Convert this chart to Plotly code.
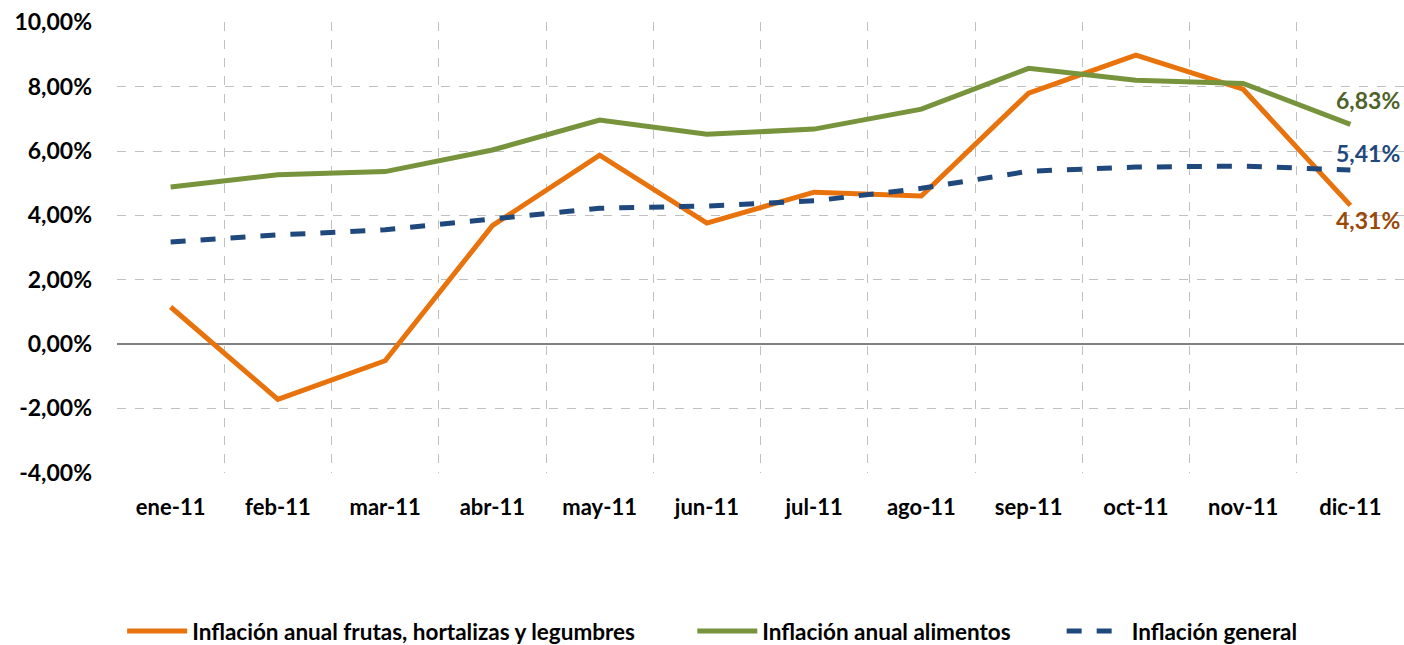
import plotly.graph_objects as go

months = ['ene-11', 'feb-11', 'mar-11', 'abr-11', 'may-11', 'jun-11',
          'jul-11', 'ago-11', 'sep-11', 'oct-11', 'nov-11', 'dic-11']

frutas = [1.15, -1.72, -0.52, 3.68, 5.87, 3.76, 4.72, 4.60, 7.80, 8.98, 7.92, 4.31]
alimentos = [4.88, 5.26, 5.36, 6.03, 6.96, 6.52, 6.68, 7.30, 8.57, 8.20, 8.10, 6.83]
general = [3.17, 3.39, 3.55, 3.88, 4.22, 4.29, 4.45, 4.84, 5.37, 5.50, 5.53, 5.41]

y_ticks = [-4, -2, 0, 2, 4, 6, 8, 10]

FONT = 'Lato, Roboto, Noto Sans, sans-serif'
ORANGE = '#E8720C'
GREEN = '#77933C'
BLUE = '#1F497D'
GRID = '#C0C0C0'


def pct(v):
    return ('%.2f%%' % v).replace('.', ',')


x = list(range(len(months)))

fig = go.Figure()
fig.add_trace(go.Scatter(x=x, y=[v / 100 for v in frutas], mode='lines',
                         name='<b>Inflación anual frutas, hortalizas y legumbres</b>',
                         line=dict(color=ORANGE, width=5), legend='legend'))
fig.add_trace(go.Scatter(x=x, y=[v / 100 for v in alimentos], mode='lines',
                         name='<b>Inflación anual alimentos</b>',
                         line=dict(color=GREEN, width=5), legend='legend2'))
fig.add_trace(go.Scatter(x=x, y=[v / 100 for v in general], mode='lines',
                         name='<b>Inflación general</b>',
                         line=dict(color=BLUE, width=5, dash='dash'), legend='legend3'))
# invisible trace to draw the category boundary grid
fig.add_trace(go.Scatter(x=[0], y=[0], xaxis='x2', mode='markers', marker=dict(opacity=0),
                         showlegend=False, hoverinfo='skip'))

# end-of-line labels
last = len(months) - 1
labels = [
    (alimentos[last], '#4F6228', 24),
    (general[last], BLUE, 17),
    (frutas[last], '#984807', -15),
]
for val, col, dy in labels:
    fig.add_annotation(x=last, y=val / 100, xref='x', yref='y',
                       text='<b>%s</b>' % pct(val), showarrow=False,
                       xshift=18, yshift=dy, xanchor='center',
                       font=dict(family=FONT, size=23, color=col))

leg = dict(orientation='h', yref='container', yanchor='middle', y=0.021, xanchor='left',
           font=dict(family=FONT, size=22.5, color='black'),
           bgcolor='rgba(0,0,0,0)', itemwidth=60)

fig.update_layout(
    width=1404, height=645,
    margin=dict(l=117, r=0, t=22, b=172),
    paper_bgcolor='white', plot_bgcolor='white',
    separators=',.',
    font=dict(family=FONT, size=22, color='black'),
    showlegend=True,
    legend=dict(leg, x=0.004),
    legend2=dict(leg, x=0.447),
    legend3=dict(leg, x=0.734),
    xaxis=dict(range=[-0.5, 11.5], tickvals=x, ticktext=['<b>%s</b>' % m for m in months],
               showgrid=False, zeroline=False, showline=False, ticks='',
               ticklabelstandoff=19, tickfont=dict(family=FONT, size=22)),
    xaxis2=dict(range=[-0.503, 11.5], overlaying='x', tickvals=[i - 0.5 for i in range(13)],
                showgrid=True, gridcolor=GRID, griddash='dash', gridwidth=1.3,
                showticklabels=False, zeroline=False, ticks=''),
    yaxis=dict(range=[-0.0401, 0.1001], tickvals=[v / 100 for v in y_ticks],
               ticktext=['<b>%s</b>' % pct(v) for v in y_ticks],
               showgrid=True, gridcolor=GRID, griddash='dash', gridwidth=1.3,
               zeroline=True, zerolinecolor='#808080', zerolinewidth=1.5,
               ticks='', ticklabelstandoff=24, tickfont=dict(family=FONT, size=23)),
)

fig.write_html('out.html', config={'displayModeBar': False},
               post_script="document.body.style.margin='0px';")
